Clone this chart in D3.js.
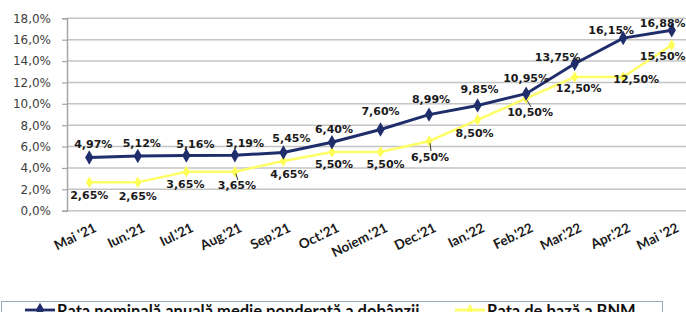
<!DOCTYPE html>
<html>
<head>
<meta charset="utf-8">
<script src="https://cdn.jsdelivr.net/npm/d3@7"></script>
<style>
  html, body { margin: 0; padding: 0; background: #ffffff; }
  svg { display: block; }
</style>
</head>
<body>
<svg id="chart" width="686" height="312"></svg>
<script>
const categories = ["Mai '21", "Iun.'21", "Iul.'21", "Aug.'21", "Sep.'21", "Oct.'21", "Noiem.'21",
                    "Dec.'21", "Ian.'22", "Feb.'22", "Mar.'22", "Apr.'22", "Mai '22"];
const rataNominala = [4.97, 5.12, 5.16, 5.19, 5.45, 6.40, 7.60, 8.99, 9.85, 10.95, 13.75, 16.15, 16.88];
const rataBaza = [2.65, 2.65, 3.65, 3.65, 4.65, 5.50, 5.50, 6.50, 8.50, 10.50, 12.50, 12.50, 15.50];
const yTicks = [0, 2, 4, 6, 8, 10, 12, 14, 16, 18];
const seriesNames = ["Rata nominală anuală medie ponderată a dobânzii", "Rata de bază a BNM"];

// label offsets (layout only)
const blueOff = [[4,-13.5],[4,-12],[9,-11.5],[10,-12],[8,-14],[2,-13],[0,-17.5],[2,-15.6],[2,-16.4],[0,-15.6],[-17,-6.7],[-12,-8],[-9,-6.3]];
const yellowOff = [[0,13.6],[0,14.6],[-1,13.3],[2,14.3],[6,14],[2,13],[5,13],[1,15.8],[-3,13.2],[4,14.5],[4,11.9],[13,2.9],[-9,11]];
const leaderIdx = [3, 7, 9];

const svg = d3.select("#chart");
const fmtPct = v => v.toFixed(2).replace(".", ",") + "%";
const fmtTick = v => v.toFixed(1).replace(".", ",") + "%";

const x = d3.scaleBand().domain(categories).range([65, 696]).padding(0);
const cx = c => x(c) + x.bandwidth() / 2;
const y = d3.scaleLinear().domain([0, 18]).range([210.7, 18.3]);

// gridlines
svg.append("g").selectAll("line").data(yTicks).join("line")
  .attr("x1", 67).attr("x2", 686)
  .attr("y1", d => y(d)).attr("y2", d => y(d))
  .attr("stroke", "#c4c4c4").attr("stroke-width", 1.5);

// y axis
const yAxis = d3.axisLeft(y).tickValues(yTicks).tickFormat(fmtTick).tickSize(5).tickPadding(11);
const gy = svg.append("g").attr("transform", "translate(67,0)").call(yAxis);
gy.select(".domain").attr("stroke", "#a6a6a6").attr("stroke-width", 1.5);
gy.selectAll(".tick line").attr("stroke", "#a6a6a6").attr("stroke-width", 1.2);
gy.selectAll(".tick text").attr("font-family", "DejaVu Sans").attr("font-size", 12).attr("fill", "#404040");

// x labels
svg.append("g").selectAll("text").data(categories).join("text")
  .attr("transform", d => `translate(${cx(d) + 8},231) rotate(-26)`)
  .attr("text-anchor", "end")
  .attr("font-family", "Lato").attr("font-weight", 700).attr("font-size", 13.5)
  .attr("fill", "#1a1a1a")
  .text(d => d);

const line = d3.line().x((d, i) => cx(categories[i])).y(d => y(d));

// yellow series
svg.append("path").datum(rataBaza).attr("d", line)
  .attr("fill", "none").attr("stroke", "#ffff66").attr("stroke-width", 2.5);
svg.append("g").selectAll("path").data(rataBaza).join("path")
  .attr("d", d3.symbol(d3.symbolDiamond, 40))
  .attr("transform", (d, i) => `translate(${cx(categories[i])},${y(d)})`)
  .attr("fill", "#ffff55");

// blue series
svg.append("path").datum(rataNominala).attr("d", line)
  .attr("fill", "none").attr("stroke", "#1f2d6b").attr("stroke-width", 3);
svg.append("g").selectAll("path").data(rataNominala).join("path")
  .attr("d", d3.symbol(d3.symbolDiamond, 60))
  .attr("transform", (d, i) => `translate(${cx(categories[i])},${y(d)})`)
  .attr("fill", "#1f2d6b");

// leader lines for yellow labels
svg.append("g").selectAll("line").data(leaderIdx).join("line")
  .attr("x1", i => cx(categories[i]) + 1)
  .attr("y1", i => y(rataBaza[i]) + 2)
  .attr("x2", i => cx(categories[i]) + yellowOff[i][0] + 1)
  .attr("y2", i => y(rataBaza[i]) + yellowOff[i][1] - 6)
  .attr("stroke", "#333").attr("stroke-width", 1);

// data labels
const labelStyle = sel => sel.attr("font-family", "DejaVu Sans").attr("font-weight", 700)
  .attr("font-size", 11).attr("fill", "#1a1a1a").attr("text-anchor", "middle")
  .attr("dominant-baseline", "central");

svg.append("g").selectAll("text").data(rataNominala).join("text")
  .attr("x", (d, i) => cx(categories[i]) + blueOff[i][0])
  .attr("y", (d, i) => y(d) + blueOff[i][1])
  .call(labelStyle).text(fmtPct);

svg.append("g").selectAll("text").data(rataBaza).join("text")
  .attr("x", (d, i) => cx(categories[i]) + yellowOff[i][0])
  .attr("y", (d, i) => y(d) + yellowOff[i][1])
  .call(labelStyle).text(fmtPct);

// legend
const lg = svg.append("g");
lg.append("rect").attr("x", 1.5).attr("y", 301.5).attr("width", 661).attr("height", 30)
  .attr("fill", "none").attr("stroke", "#9aaabb").attr("stroke-width", 1);
const legendItems = [
  { name: seriesNames[0], color: "#1f2d6b", x0: 25, size: 60 },
  { name: seriesNames[1], color: "#ffff66", x0: 455, size: 40 }
];
legendItems.forEach(it => {
  lg.append("line").attr("x1", it.x0).attr("x2", it.x0 + 30).attr("y1", 310).attr("y2", 310)
    .attr("stroke", it.color).attr("stroke-width", 2.8);
  lg.append("path").attr("d", d3.symbol(d3.symbolDiamond, it.size))
    .attr("transform", `translate(${it.x0 + 15},310)`).attr("fill", it.color);
  lg.append("text").attr("x", it.x0 + 32).attr("y", 317)
    .attr("font-family", "Lato").attr("font-weight", 700).attr("font-size", 16.5)
    .attr("fill", "#111").text(it.name);
});
</script>
</body>
</html>
